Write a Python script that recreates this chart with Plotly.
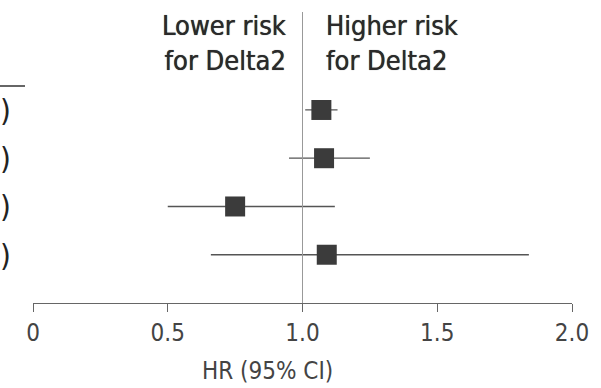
import plotly.graph_objects as go

# Data
rows = [4, 3, 2, 1]           # row positions top -> bottom
hr = [1.07, 1.08, 0.75, 1.09]
ci_low = [1.01, 0.95, 0.50, 0.66]
ci_high = [1.13, 1.25, 1.12, 1.84]
tick_vals = [0, 0.5, 1.0, 1.5, 2.0]
tick_text = ["0", "0.5", "1.0", "1.5", "2.0"]

W, H = 601, 388
ML, MR, MT, MB = 33, 29, 12, 85
PW = W - ML - MR
PH = H - MT - MB

def px_to_paper_x(px):
    return (px - ML) / PW

def py_to_paper_y(py):
    return (H - MB - py) / PH

FONT = "DejaVu Sans Condensed, DejaVu Sans, sans-serif"

fig = go.Figure()
fig.add_trace(go.Scatter(
    x=hr, y=rows, mode="markers",
    marker=dict(symbol="square", size=20, color="#3b3b3b",
                line=dict(width=0)),
    error_x=dict(type="data", symmetric=False,
                 array=[h - v for h, v in zip(ci_high, hr)],
                 arrayminus=[h - l for h, l in zip(hr, ci_low)],
                 color="#555555", thickness=1.3, width=0),
    showlegend=False, hoverinfo="skip",
))

fig.update_layout(
    width=W, height=H,
    margin=dict(l=ML, r=MR, t=MT, b=MB),
    paper_bgcolor="white", plot_bgcolor="white",
    font=dict(family=FONT, size=24, color="#333333"),
    xaxis=dict(range=[0, 2], tickvals=tick_vals, ticktext=tick_text,
               showline=True, linecolor="#666666", linewidth=1.2,
               ticks="outside", ticklen=8, tickcolor="#666666", tickwidth=1.2,
               showgrid=False, zeroline=False,
               tickfont=dict(family=FONT, size=24, color="#444444")),
    yaxis=dict(range=[0, 6.03], visible=False, showgrid=False, zeroline=False),
)

# reference line at HR = 1
fig.add_shape(type="line", xref="x", yref="paper", x0=1.0, x1=1.0, y0=0, y1=1,
              line=dict(color="#999999", width=1))

# cropped table header underline at left edge
fig.add_shape(type="line", xref="paper", yref="paper",
              x0=px_to_paper_x(-2), x1=px_to_paper_x(25),
              y0=py_to_paper_y(86), y1=py_to_paper_y(86),
              line=dict(color="#333333", width=1.5))

# ")" characters from the table at left edge
for r in rows:
    fig.add_annotation(text=")", xref="paper", yref="y",
                       x=px_to_paper_x(-2), y=r, xanchor="left", yanchor="middle",
                       showarrow=False, font=dict(family=FONT, size=31, color="#222222"))

# header annotations
HDR = dict(family=FONT, size=27, color="#2a2a2a", shadow="0px 0px 0.7px #2a2a2a")
fig.add_annotation(text="Lower risk<br>for Delta2", xref="paper", yref="paper",
                   x=px_to_paper_x(288), y=py_to_paper_y(8), xanchor="right", yanchor="top",
                   align="right", showarrow=False, font=HDR)
fig.add_annotation(text="Higher risk<br>for Delta2", xref="paper", yref="paper",
                   x=px_to_paper_x(324), y=py_to_paper_y(8), xanchor="left", yanchor="top",
                   align="left", showarrow=False, font=HDR)

# axis title
fig.add_annotation(text="HR (95% CI)", xref="paper", yref="paper",
                   x=px_to_paper_x(267), y=py_to_paper_y(387), xanchor="center", yanchor="bottom",
                   showarrow=False, font=dict(family=FONT, size=24, color="#444444"))

fig.write_html("out.html")
